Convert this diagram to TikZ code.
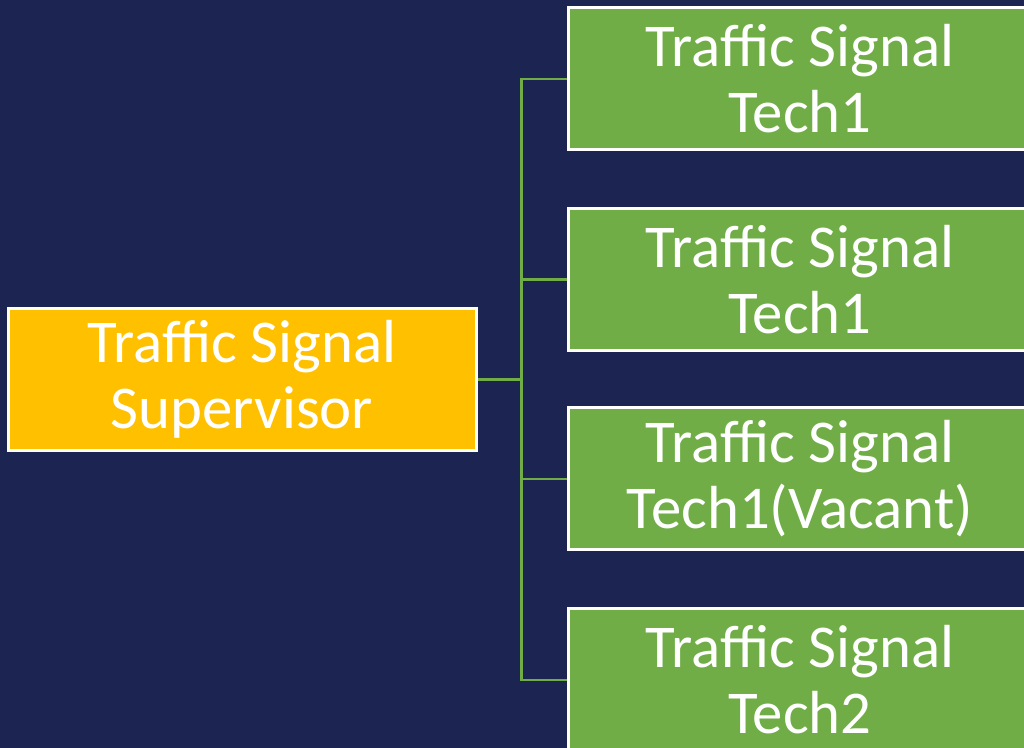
\documentclass[tikz,border=0pt]{standalone}
\usepackage{fontspec}
\setmainfont{Carlito}
\usepackage{tikz}
\usetikzlibrary{
	calc,
}
\definecolor{navy}{HTML}{1C2551}
\definecolor{gold}{HTML}{FFC000}
\definecolor{leaf}{HTML}{70AD47}

\begin{document}
\begin{tikzpicture}[x=0.5pt, y=0.5pt,
		box/.style={draw=white, line width=1.5pt, text=white, align=center,
			minimum height=71pt, inner sep=0pt,
			font=\fontsize{30.4}{33}\selectfont},
		supbox/.style={box, fill=gold, minimum width=234pt},
		techbox/.style={box, fill=leaf, minimum width=232pt},
		link/.style={draw=leaf, line width=1.2pt},
	]
			\useasboundingbox (0,0) rectangle (1024,748);
			\fill[navy] (0,0) rectangle (1024,748);
			\clip (0,0) rectangle (1024,748);
			\node[supbox] (sup) at (242,368.5) {Traffic Signal\\Supervisor};
			\node[techbox] (tech1) at (800,669) {Traffic Signal\\Tech1};
			\node[techbox] (tech2) at (800,468.5) {Traffic Signal\\Tech1};
			\node[techbox] (tech3) at (800,269) {Traffic Signal\\Tech1(Vacant)};
			\node[techbox] (tech4) at (800,68) {Traffic Signal\\Tech2};
			\coordinate(J) at (521.5,368.5);
			\draw[link] (sup.east) -- (J);
			\draw[link] (J) |- (tech1.west);
			\draw[link] (J) |- (tech2.west);
			\draw[link] (J) |- (tech3.west);
			\draw[link] (J) |- (tech4.west);
		\end{tikzpicture}
\end{document}
